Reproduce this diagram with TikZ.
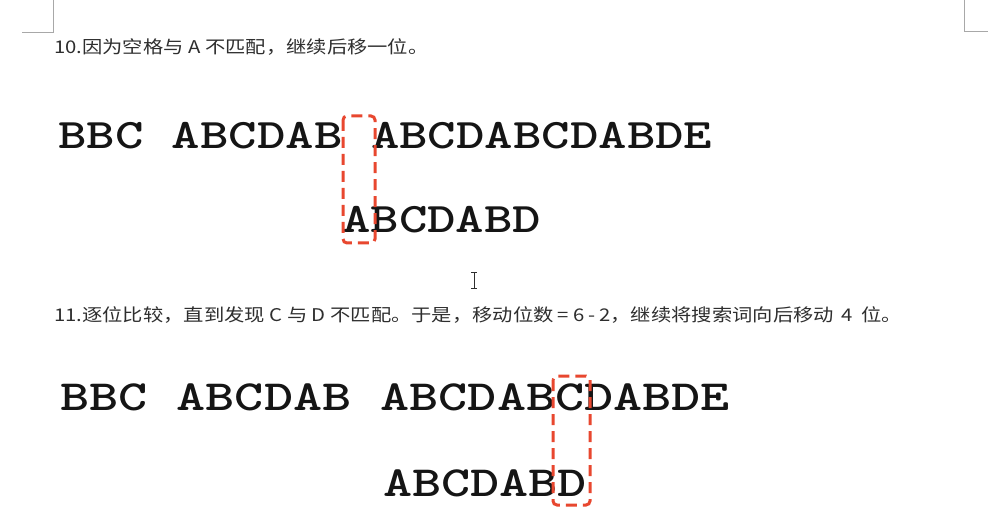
\documentclass[tikz,border=0pt]{standalone}
\usepackage{fontspec}
\newfontfamily\cjk[FakeStretch=1.16]{Noto Sans CJK SC}
\definecolor{boxred}{HTML}{E8472F}
\definecolor{headgray}{HTML}{2E2E2E}
\definecolor{markgray}{HTML}{A8A8A8}
\definecolor{textblack}{HTML}{151515}
\newcommand{\gp}{\hspace{4pt}}
\begin{document}
\begin{tikzpicture}[x=1pt,y=-1pt,
  heading/.style={anchor=base west,inner sep=0pt,text=headgray,font=\cjk\fontsize{17.5}{20}\selectfont},
  strA/.style={anchor=base west,inner sep=0pt,text=textblack,font=\ttfamily\bfseries\fontsize{42}{50}\selectfont},
  strB/.style={anchor=base west,inner sep=0pt,text=textblack,font=\ttfamily\bfseries\fontsize{43}{50}\selectfont},
  markbox/.style={draw=boxred,line width=3pt,rounded corners=4pt,dash pattern=on 11pt off 6pt,inner sep=0pt},
  cornermark/.style={draw=markgray,line width=1pt}]
\fill[white] (0,0) rectangle (988,513);
\useasboundingbox (0,0) rectangle (988,513);
% corner marks
\coordinate (tl1) at (53,0); \coordinate (tl2) at (53,33); \coordinate (tl3) at (22,33);
\draw[cornermark] (tl1) -- (tl2) -- (tl3);
\coordinate (tr1) at (964,0); \coordinate (tr2) at (964,32); \coordinate (tr3) at (988,32);
\draw[cornermark] (tr1) -- (tr2) -- (tr3);
% step 10
\node[heading] (h1) at (54,54) {10.因为空格与 A 不匹配，继续后移一位。};
\node[strA] (t1) at (58,149) {\scalebox{1.29}[1]{BBC ABCDAB ABCDABCDABDE}};
\node[strA] (p1) at (342,233) {\scalebox{1.29}[1]{ABCDABD}};
\draw[markbox] (343,116) rectangle (375,243);
% cursor
\coordinate (c1) at (474,272); \coordinate (c2) at (474,288);
\draw[headgray,line width=1pt] (c1) -- (c2);
\draw[headgray,line width=0.8pt] (471,272) -- (477,272) (471,288) -- (477,288);
% step 11
\node[heading] (h2) at (54,321) {11.逐位比较，直到发现 C 与 D 不匹配。于是，移动位数{\gp}={\gp}6{\gp}-{\gp}2，继续将搜索词向后移动{\gp}{\gp}4{\gp}{\gp}位。};
\node[strB] (t2) at (60,410) {\scalebox{1.29}[1]{BBC ABCDAB ABCDABCDABDE}};
\node[strB] (p2) at (383,496) {\scalebox{1.29}[1]{ABCDABD}};
\draw[markbox] (553,376) rectangle (590,505);
\end{tikzpicture}
\end{document}
